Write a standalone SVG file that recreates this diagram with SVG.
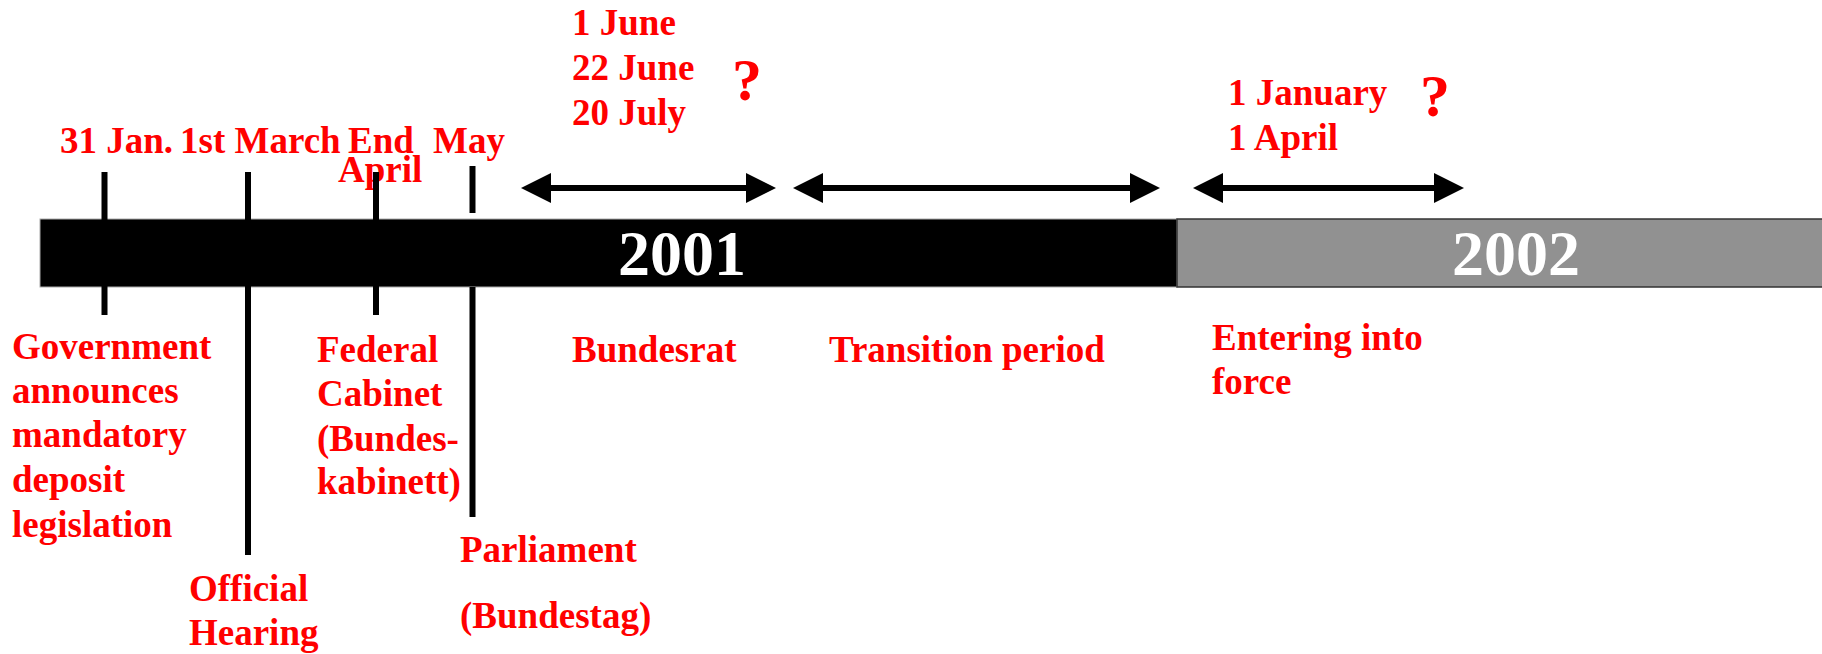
<svg xmlns="http://www.w3.org/2000/svg" width="1822" height="654" viewBox="0 0 1822 654">
  <style>
    .lbl { font-family: "Liberation Serif", "Times New Roman", serif; font-weight: bold; font-size: 37px; fill: #FF0000; }
    .q { font-family: "Liberation Serif", "Times New Roman", serif; font-weight: bold; font-size: 60px; fill: #FF0000; }
    .year { font-family: "Liberation Serif", "Times New Roman", serif; font-weight: bold; font-size: 64px; fill: #FFFFFF; text-anchor: middle; }
    .tick { stroke: #000; stroke-width: 6; fill: none; }
    .arr { stroke: #000; stroke-width: 6; fill: none; marker-start: url(#head); marker-end: url(#head); }
  </style>
  <defs>
    <marker id="head" markerUnits="userSpaceOnUse" markerWidth="30" markerHeight="30" refX="10" refY="15" orient="auto-start-reverse">
      <path d="M0,0 L30,15 L0,30 Z" fill="#000"/>
    </marker>
  </defs>
  <rect width="1822" height="654" fill="#FFFFFF"/>

  <g id="timeline-bar">
    <rect x="40" y="219" width="1137" height="68" fill="#000" stroke="#aaaaaa" stroke-width="1"/>
    <rect x="1177" y="219" width="650" height="68" fill="#919191" stroke="#333333" stroke-width="1.5"/>
    <text class="year" x="682" y="275">2001</text>
    <text class="year" x="1516" y="275">2002</text>
  </g>

  <g id="event-31jan">
    <text class="lbl" x="60" y="153">31 Jan.</text>
    <text class="lbl" x="12" y="359">Government</text>
    <text class="lbl" x="12" y="403">announces</text>
    <text class="lbl" x="12" y="447">mandatory</text>
    <text class="lbl" x="12" y="492">deposit</text>
    <text class="lbl" x="12" y="537">legislation</text>
  </g>

  <g id="event-1march">
    <text class="lbl" x="180" y="153">1st March</text>
    <text class="lbl" x="189" y="601">Official</text>
    <text class="lbl" x="189" y="645">Hearing</text>
  </g>

  <g id="event-endapril">
    <text class="lbl" x="348" y="153">End</text>
    <text class="lbl" x="338" y="182">April</text>
    <text class="lbl" x="317" y="362">Federal</text>
    <text class="lbl" x="317" y="406">Cabinet</text>
    <text class="lbl" x="317" y="451">(Bundes-</text>
    <text class="lbl" x="317" y="494">kabinett)</text>
  </g>

  <g id="event-may">
    <text class="lbl" x="433" y="153">May</text>
    <text class="lbl" x="460" y="562">Parliament</text>
    <text class="lbl" x="460" y="628">(Bundestag)</text>
  </g>

  <g id="period-bundesrat">
    <text class="lbl" x="572" y="35">1 June</text>
    <text class="lbl" x="572" y="80">22 June</text>
    <text class="lbl" x="572" y="125">20 July</text>
    <text class="q" x="732" y="100">?</text>
    <text class="lbl" x="572" y="362">Bundesrat</text>
  </g>

  <g id="period-transition">
    <text class="lbl" x="829" y="362">Transition period</text>
  </g>

  <g id="period-force">
    <text class="lbl" x="1228" y="105">1 January</text>
    <text class="lbl" x="1228" y="150">1 April</text>
    <text class="q" x="1420" y="116">?</text>
    <text class="lbl" x="1212" y="350">Entering into</text>
    <text class="lbl" x="1212" y="394">force</text>
  </g>

  <g id="connectors">
    <line class="tick" x1="104.5" y1="172" x2="104.5" y2="315"/>
    <line class="tick" x1="248" y1="172" x2="248" y2="555"/>
    <line class="tick" x1="376" y1="172" x2="376" y2="315"/>
    <line class="tick" x1="472.5" y1="166" x2="472.5" y2="213"/>
    <line class="tick" x1="472.5" y1="287" x2="472.5" y2="517"/>
    <line class="arr" x1="541" y1="188" x2="756" y2="188"/>
    <line class="arr" x1="813" y1="188" x2="1140" y2="188"/>
    <line class="arr" x1="1213" y1="188" x2="1444" y2="188"/>
  </g>
</svg>
